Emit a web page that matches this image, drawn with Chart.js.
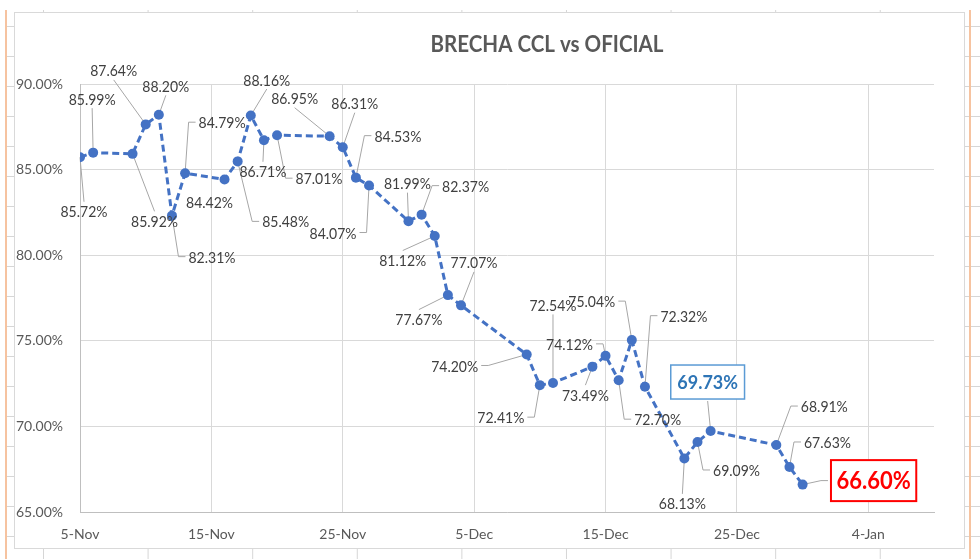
<!DOCTYPE html>
<html>
<head>
<meta charset="utf-8">
<script src="https://cdn.jsdelivr.net/npm/chart.js"></script>
<style>
  html, body { margin:0; padding:0; background:#fff; }
  #wrap { position:relative; width:980px; height:559px; overflow:hidden; background:#fff; }
  #sheet { position:absolute; left:7px; top:10px; right:0; bottom:0;
    background-image: linear-gradient(to right, #d6d6d6 1px, transparent 1px), linear-gradient(to bottom, #d6d6d6 1px, transparent 1px);
    background-size: 104.6px 100%, 100% 30px;
    background-position: 36px 0, 0 16px; }
  .orange { position:absolute; top:10px; bottom:0; width:2px; background:#f6c3a0; }
  #frame { position:absolute; left:14px; top:12px; width:949px; height:535px; border:1px solid #d9d9d9; background:#fff; }
  #c { position:absolute; left:0; top:0; }
</style>
</head>
<body>
<div id="wrap">
  <div id="sheet"></div>
  <div class="orange" style="left:5px"></div>
  <div class="orange" style="left:969px"></div>
  <div id="frame"></div>
  <canvas id="c" width="980" height="559"></canvas>
</div>
<script>
// ---- data ----
const chartTitle = 'BRECHA CCL vs OFICIAL';
const dates = ['5-Nov','6-Nov','9-Nov','10-Nov','11-Nov','12-Nov','13-Nov','16-Nov','17-Nov','18-Nov',
  '19-Nov','20-Nov','24-Nov','25-Nov','26-Nov','27-Nov','30-Nov','1-Dec','2-Dec','3-Dec',
  '4-Dec','9-Dec','10-Dec','11-Dec','14-Dec','15-Dec','16-Dec','17-Dec','18-Dec','21-Dec',
  '22-Dec','23-Dec','28-Dec','29-Dec','30-Dec'];
const brecha = [85.72,85.99,85.92,87.64,88.20,82.31,84.79,84.42,85.48,88.16,
  86.71,87.01,86.95,86.31,84.53,84.07,81.99,82.37,81.12,77.67,
  77.07,74.20,72.41,72.54,73.49,74.12,72.70,75.04,72.32,68.13,
  69.09,69.73,68.91,67.63,66.60];
const xTickLabels = ['5-Nov','15-Nov','25-Nov','5-Dec','15-Dec','25-Dec','4-Jan'];
const xAxisEnd = '9-Jan';
const yMin = 65, yMax = 90, yStep = 5;

// ---- label layout (pixel offsets from each point, leader mode, label style) ----
const labelOffsets = [[4,54],[-1,-54],[22,67],[-32,-54],[7,-29],[40,41],[37,-51],[-15,22],[48,60],[16,-36],
  [-1,31],[42,43],[-35,-38],[12,-44],[42,-42],[-36,47],[-1,-38],[44,-29],[-32,24],[-29,24],
  [13,-43],[-72,11],[-39,32],[0,-78],[-7,28],[-36,-12],[39,39],[-40,-39],[39,-71],[-2,45],
  [39,28],[-3,-49],[48,-39],[38,-25],[71,-4]];
const leaderModes = [1,1,1,1,1,2,2,0,2,1,1,2,1,1,2,2,1,2,1,1,1,2,2,1,1,2,2,2,2,1,2,1,2,2,2];
const labelKinds  = [0,0,0,0,0,0,0,0,0,0,0,0,0,0,0,0,0,0,0,0,0,0,0,0,0,0,0,0,0,0,0,1,0,0,2];

const kindStyles = [
  {font:'14px Lato', color:'#404040', box:false, padX:0, h:15, sy:1.12},
  {font:'bold 18px Lato', color:'#2E75B6', box:true, border:'#5B9BD5', lw:1.5, padX:6.5, h:34, sy:1.1},
  {font:'bold 22px Lato', color:'#FF0000', box:true, border:'#FF0000', lw:2, padX:5.5, h:41, sy:1.1}
];

const MONTHS = {Jan:0,Feb:1,Mar:2,Apr:3,May:4,Jun:5,Jul:6,Aug:7,Sep:8,Oct:9,Nov:10,Dec:11};
function dayIndex(s){
  const [d, m] = s.split('-');
  const mo = MONTHS[m];
  const yr = mo < 6 ? 2021 : 2020;
  return Math.round((Date.UTC(yr, mo, +d) - Date.UTC(2020, 10, 5)) / 86400000);
}
const points = dates.map((d, i) => ({x: dayIndex(d), y: brecha[i]}));
const xTickValues = xTickLabels.map(dayIndex);

function labelBox(ctx, i, p){
  const st = kindStyles[labelKinds[i]];
  ctx.font = st.font;
  const text = brecha[i].toFixed(2) + '%';
  const tw = ctx.measureText(text).width;
  const w = tw + st.padX * 2;
  const cx = p.x + labelOffsets[i][0], cy = p.y + labelOffsets[i][1];
  return {text, st, w, h: st.h, cx, cy};
}

const leaderLabels = {
  id: 'leaderLabels',
  beforeDatasetsDraw(chart){
    const ctx = chart.ctx;
    const meta = chart.getDatasetMeta(0);
    ctx.save();
    ctx.strokeStyle = '#a6a6a6';
    ctx.lineWidth = 1;
    meta.data.forEach((p, i) => {
      const mode = leaderModes[i];
      if (!mode) return;
      const b = labelBox(ctx, i, p);
      ctx.beginPath();
      if (mode === 1) {
        const ey = p.y > b.cy ? b.cy + b.h/2 + 2 : b.cy - b.h/2 - 2;
        ctx.moveTo(b.cx, ey);
        ctx.lineTo(p.x, p.y);
      } else {
        const left = p.x < b.cx;
        const sx = left ? b.cx - b.w/2 - 3 : b.cx + b.w/2 + 3;
        const ex = left ? Math.max(sx - 7, p.x) : Math.min(sx + 7, p.x);
        ctx.moveTo(sx, b.cy);
        ctx.lineTo(ex, b.cy);
        ctx.lineTo(p.x, p.y);
      }
      ctx.stroke();
    });
    ctx.restore();
  },
  afterDatasetsDraw(chart){
    const ctx = chart.ctx;
    const meta = chart.getDatasetMeta(0);
    meta.data.forEach((p, i) => {
      const b = labelBox(ctx, i, p);
      ctx.save();
      if (b.st.box) {
        ctx.fillStyle = '#fff';
        ctx.fillRect(b.cx - b.w/2, b.cy - b.h/2, b.w, b.h);
        ctx.strokeStyle = b.st.border;
        ctx.lineWidth = b.st.lw;
        ctx.strokeRect(b.cx - b.w/2, b.cy - b.h/2, b.w, b.h);
      }
      ctx.font = b.st.font;
      ctx.fillStyle = b.st.color;
      ctx.textAlign = 'center';
      ctx.textBaseline = 'middle';
      ctx.translate(b.cx, b.cy + 1);
      ctx.scale(1, b.st.sy);
      ctx.fillText(b.text, 0, 0);
      ctx.restore();
    });
  }
};

const titlePlugin = {
  id: 'excelTitle',
  afterDraw(chart){
    const ctx = chart.ctx;
    ctx.save();
    ctx.font = 'bold 20px Lato';
    ctx.fillStyle = '#595959';
    ctx.textAlign = 'center';
    ctx.textBaseline = 'middle';
    const w = ctx.measureText(chartTitle).width;
    const sx = Math.min(1.15, Math.max(0.85, 233 / w));
    ctx.translate(547, 45);
    ctx.scale(sx, 1.15);
    ctx.fillText(chartTitle, 0, 0);
    ctx.restore();
  }
};

new Chart(document.getElementById('c'), {
  type: 'line',
  data: {
    datasets: [{
      data: points,
      borderColor: '#4472C4',
      borderWidth: 3,
      borderDash: [7, 4],
      pointRadius: 5,
      pointBackgroundColor: '#4472C4',
      pointBorderColor: '#4472C4',
      pointBorderWidth: 0,
      tension: 0,
      fill: false
    }]
  },
  options: {
    responsive: false,
    animation: false,
    events: [],
    layout: { padding: { left: 0, right: 46, top: 84, bottom: 0 } },
    plugins: { legend: { display: false }, tooltip: { enabled: false }, title: { display: false } },
    scales: {
      x: {
        type: 'linear',
        min: 0,
        max: dayIndex(xAxisEnd),
        afterBuildTicks: s => { s.ticks = xTickValues.map(v => ({value: v})); },
        afterFit: s => { s.height = 47; },
        ticks: {
          callback: v => { const k = xTickValues.indexOf(v); return k >= 0 ? xTickLabels[k] : ''; },
          font: { family: 'Lato', size: 14 },
          color: '#595959',
          padding: 14,
          maxRotation: 0,
          autoSkip: false
        },
        grid: { color: '#d9d9d9', lineWidth: 1, drawTicks: false },
        border: { display: true, color: '#bfbfbf', width: 1 }
      },
      y: {
        min: yMin,
        max: yMax,
        afterFit: s => { s.width = 80; },
        ticks: {
          stepSize: yStep,
          callback: v => v.toFixed(2) + '%',
          font: { family: 'Lato', size: 14 },
          color: '#595959',
          padding: 17
        },
        grid: { color: '#d9d9d9', lineWidth: 1, drawTicks: false },
        border: { display: true, color: '#bfbfbf', width: 1 }
      }
    }
  },
  plugins: [leaderLabels, titlePlugin]
});
</script>
</body>
</html>
